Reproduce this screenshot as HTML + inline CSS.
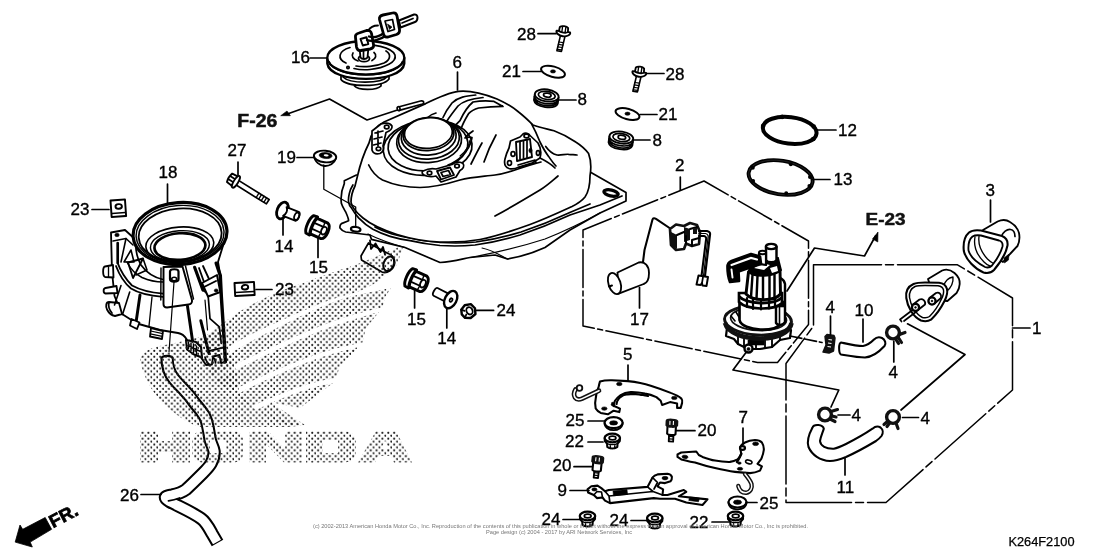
<!DOCTYPE html>
<html><head><meta charset="utf-8">
<style>
html,body{margin:0;padding:0;background:#fff;}
body{width:1120px;height:560px;overflow:hidden;font-family:"Liberation Sans",sans-serif;}
svg{display:block;transform:translateZ(0);will-change:transform;}
.l{fill:none;stroke:#000;stroke-width:1.7;stroke-linecap:round;stroke-linejoin:round;}
.t{fill:none;stroke:#000;stroke-width:1.2;stroke-linecap:round;stroke-linejoin:round;}
.h{fill:none;stroke:#111;stroke-width:1.6;stroke-linecap:round;stroke-linejoin:round;}
.w{fill:#fff;stroke:#000;stroke-width:1.7;stroke-linecap:round;stroke-linejoin:round;}
.k{fill:#000;stroke:#000;stroke-width:0.6;stroke-linejoin:round;}
.d{fill:none;stroke:#111;stroke-width:1.1;stroke-dasharray:22 4 5 4;}
.n{font-family:"Liberation Sans",sans-serif;font-size:17px;fill:#000;stroke:#000;stroke-width:0.35;}
.b{font-family:"Liberation Sans",sans-serif;font-weight:bold;font-size:14px;fill:#111;stroke:#111;stroke-width:0.5;}
</style></head><body>
<svg width="1120" height="560" viewBox="0 0 1120 560">
<rect width="1120" height="560" fill="#fff"/>
<g id="fr">
<path d="M15.2 542.1L20 525L22.700 529.300L45.200 517.500L51.600 529.300L30.200 542.100L32.300 547Z" fill="#000" stroke="#000" stroke-width="0.800" stroke-linejoin="miter"/>
<text transform="translate(53 528.300) rotate(-27.600)" style="font-family:'Liberation Sans',sans-serif;font-weight:bold;font-size:18px;fill:#000;stroke:#000;stroke-width:0.700" textLength="30" lengthAdjust="spacingAndGlyphs">FR.</text>

</g>
<g id="tank">
<!-- flange / lower -->
<path class="w" d="M356.400 175L344.300 180.700L344.300 183.600C341.500 190 340.500 197 341.400 203.600C342.500 207 344.500 210 345.700 212C347 215 348.500 218 348.600 220.700L341.400 223.600C340 225 339.800 227 340 227.900C341.500 230 343.500 231.500 345.700 232L370 235L371.400 239.300L405 247.500L440 262.500C452 262 462 259 470 257.5L495 255L507.5 259C520 257 535 252 545 247.5L570 230L600 213L626 201V192.5L591 172.5Z"/>
<!-- tube under tank -->
<path class="w" d="M368.500 243L361 256L361.500 260L382 272C387 274 393 270 394.500 264C395.500 259 392.500 255 388 253.500Z"/>
<ellipse class="w" cx="388.700" cy="263.700" rx="5" ry="7.500" transform="rotate(22 388.700 263.700)" style="stroke-width:1.95"/>
<path class="l" d="M370 240.500L371 249L375.500 243.500L380.500 252L383 247L385 254.500" style="stroke-width:1.83"/>
<!-- flange edge lines -->
<path class="l" d="M352.900 185C351 188 349.800 191 349.300 193.600C348.500 197 348.300 200 348.600 202C349 204.500 350 206.500 351.400 207.900C353.500 211.500 356 215 358.600 217.900C363 222.500 368 226.500 372.900 229.300C378 232 384 234.500 390 236.400C397 238.500 404 239.800 410 240.700C420 243 430 244.500 440 245.500C455 246.500 465 246 475 245C490 243 505 239.500 520 235C538 229 555 222 570 215L600 205L622 196"/>
<path class="l" d="M375 227C380 230 386 232 392 234C399 236 406 237.500 412 238.300C422 240.500 432 241.500 441 242.500C456 243.500 466 243 476 242C491 240 506 236.500 521 232C539 226 556 219 571 212L590 204"/>
<path class="t" d="M368 234C380 240 392 244 405 247.5M470 257.5C490 254 520 247 545 239C560 233 580 224 600 213"/>
<path class="t" d="M507.500 259C498 254 492 250 482 248"/>
<!-- holes -->
<ellipse class="w" cx="355.700" cy="229.300" rx="4.800" ry="2.300" transform="rotate(8 355.700 229.300)" style="stroke-width:2.20"/>
<ellipse class="w" cx="611" cy="193" rx="7.300" ry="3" transform="rotate(13 611 193)" style="stroke-width:3.29"/>
<!-- dome -->
<path class="w" d="M357.5 176C360 165 364 153 369 143C371 134 376 126 384 122L425.700 103.600C440 96.500 449 92.500 458.600 91.400C468 90.500 483 93.500 497 99C506 103 514 108 518.600 112C525 117 530 122 533 125C541 128 548 129 554 130.700C563 134 570 138 575.700 142C582 146 586 150 588.600 153.600C591 160 591 170 590 176C590 184 588.500 192 585 197C581 202 577 204 572 206.500C560 212 545 219 530 224.500C512 231 495 236.500 480 239.500C466 242 452 242.500 440 242C425 241.500 410 238.500 397 234.500C386 231 374 227 363 218C357 213 351.500 207 351 202C351 196 353 190 355 186L357.500 176Z"/>
<!-- dome base line -->
<path class="l" d="M368.700 165C372 172 377 177 382.500 180C394 185 407 187.500 420 187.500C434 187.500 447 184 460 180C472 177 484 176.500 495 175C502 174 509 172 515 170C524 167 533 164 541 162"/>
<!-- right side crease -->
<path class="l" d="M531.400 123.600C535 130 538 137 540 142C543 148 546 153 548.600 156.400C551 160 553 163 556 166"/>
<path class="l" d="M545.700 146.400C549 151 553 154 557 155C561 155.500 565 154 568.600 154.300C572 154.500 575 155 577 155"/>
<path class="l" d="M495 216C510 208 525 199 540 190C548 185 553 180 558 176"/>
<!-- top ridges -->
<path class="l" d="M475.700 95C466 96 458 97 452 103C448 108 445 113 443 117.500"/>
<path class="l" d="M483 97.500C473 98.500 464 100 458 106C454 111 450 116 447 121"/>
<path class="l" d="M503 106.400L494 101.400C486 100.500 479 101 473 102C467 107 463 114 460 120.700L455 125.700L461.400 128C463 123 466 118 468.600 113.600C471 111 475 109 478.600 108C487 107 495 106.500 503 106.400Z"/>
<path class="l" d="M455 125.700L450 128"/>
<path class="l" d="M473 131C470 133 467 135 465 138C468 137 470 137 472 137.500C471 144 467 151 462 156C458 160 453 163 448 165"/>
<path class="t" d="M470 140C469 146 465 152 460 156"/>
<path class="l" d="M482 143C478 150 474 158 471 164M496 135C491 144 487 153 484 162"/>
<path class="l" d="M436 113C432 114 429 116 427 118"/>
<!-- filler neck concentric -->
<g transform="rotate(-5 429 140)">
<ellipse class="l" cx="427" cy="147.500" rx="44.500" ry="27.500"/>
<ellipse class="l" cx="427.500" cy="145.500" rx="40" ry="25"/>
<ellipse class="w" cx="429" cy="141" rx="32.500" ry="21.500"/>
<ellipse class="w" cx="429" cy="139" rx="30.500" ry="20"/>
<ellipse class="w" cx="429" cy="136.500" rx="27.500" ry="18.500"/>
<ellipse class="w" cx="429" cy="134" rx="25.500" ry="16.500"/>
<ellipse class="w" cx="429" cy="133" rx="24" ry="15.300"/>
</g>
<!-- small tube top-left -->
<path class="w" d="M398.300 107L421.500 100.800C424 100.600 424.500 103.300 422.500 104L399.300 110.400Z"/>
<ellipse class="w" cx="398.600" cy="108.700" rx="1.400" ry="2" transform="rotate(-15 398.600 108.700)"/>
<!-- left latch -->
<path class="w" d="M372 131L381 124C386 122.500 390 123 392 126C392.500 129 390 131 386 132.500L383 146C384 149 383 152 380 153.500C376 154.500 373 153 372 150Z" style="stroke-width:1.71"/>
<path class="l" d="M375 133L383 131M374 139L382 137M373.500 145L381 143M378 131V146"/>
<ellipse class="w" cx="386.700" cy="127" rx="2.300" ry="1.800"/>
<ellipse class="w" cx="378.500" cy="148.800" rx="2.300" ry="1.800"/>
<!-- bottom latch -->
<path class="w" d="M423 171C427 169 432 168 436 169L452 164.500C455 162 460 161 463 163.500C465 166 463 169 460 170.500L456 177L441 182L436 176C432 177 427 176.500 424 175C422 174 421.500 172 423 171Z" style="stroke-width:1.71"/>
<path class="w" d="M437 171L450 167.500L454 175L441 179.500Z" style="stroke-width:1.83"/>
<path class="l" d="M441 172.500L448.500 170.500L450.500 174.500L443 176.500Z"/>
<ellipse class="w" cx="429.500" cy="173" rx="2.300" ry="1.800"/>
<ellipse class="w" cx="457" cy="166" rx="2.300" ry="1.800"/>
<!-- right latch -->
<path class="w" d="M510.500 141L520 137L523 134C525 132.500 529 133 530 135.500L538 143C541 148 541.500 153 540 158L532 163L519 167C516 168.500 512 169.500 509 168.500C505 167 504 163 505 159C506 155 507 152 509 148Z" style="stroke-width:1.71"/>
<path class="w" d="M516 142L530 139L532 157L517 161Z" style="stroke-width:1.83"/>
<path class="l" d="M520 142V159M523.500 141.500V158M527 140.500V157.500"/>
<ellipse class="k" cx="530.500" cy="150.500" rx="1.600" ry="2.300"/>
<ellipse class="w" cx="513" cy="154" rx="2" ry="2.300"/>
<ellipse class="w" cx="509.500" cy="163" rx="2" ry="2.300"/>
<ellipse class="w" cx="538" cy="153" rx="1.600" ry="2.300"/>
<ellipse class="w" cx="526.500" cy="136" rx="2.500" ry="1.800"/>
<path class="l" d="M518 165L535 160L536 162.500L519 167.500"/>
<path class="l" d="M540 158C546 161 551 164 555 168"/>

</g>
<g id="cap16">
<!-- lower steps -->
<path class="w" d="M354.5 80V86C358 90.500 377 90.500 381 86V80Z"/>
<path class="w" d="M341 70V79.500C347 87.500 383 87.500 389 79V70Z"/>
<path class="l" d="M343 77C350 84 381 84 387.500 76.500"/>
<!-- rim -->
<path class="w" d="M327.300 58V63.500C330 84 402 84 404.300 63.500V58Z" style="stroke-width:2.32"/>
<ellipse class="w" cx="365.800" cy="57.800" rx="38.500" ry="16.800" style="stroke-width:2.32"/>
<path class="l" d="M329 61.500C335 79 397 79 402.500 61.500"/>
<!-- concentric arcs -->
<path class="l" d="M346 63C337 59 338 51 350 47.500M357 45.500C372 43 392 47 395 55C397 62 385 68 370 69.500C364 70 358 69.500 354 68.500"/>
<path class="l" d="M356 66C364 67.500 376 66.500 384 63C391 59.500 391 54 386 51"/>
<path class="l" d="M353 53C351 56 353 59.500 358 61M372 60.500C376 58.500 377 55 374 52.500"/>
<circle class="l" cx="348" cy="67.500" r="1.200"/>
<!-- keyhole boss -->
<ellipse class="w" cx="364" cy="58.500" rx="5.500" ry="3.200" style="stroke-width:1.83"/>
<!-- key 1 blade+head -->
<path class="w" d="M359.500 48L360.500 57.500C362 59.500 366 59.500 367.500 57.500L368.500 47Z" style="stroke-width:1.83"/>
<path class="l" d="M363.500 50V58"/>
<path class="w" d="M355.500 37.500C355 35 357 33.500 359 33L366.500 30.500C369 30 371 31 371.500 33.500L373.500 44.500C374 47 372.500 48.500 370 49L361 50.500C358.500 51 357 49.500 356.500 47Z" style="stroke-width:2.81"/>
<path class="w" d="M360.500 39L366.500 37.300L368.300 44L362.800 45.500Z" style="stroke-width:1.95"/>
<!-- chain link -->
<path class="l" d="M367 40C372 42 380 40 386 35.500C388 33.500 389 31 387.500 29.500M369 36.500C373 38 379 36.500 384 33" style="stroke-width:2.32"/>
<path class="l" d="M368 31C370 27.500 374 25.500 378 25.500" style="stroke-width:1.83"/>
<!-- key 2 -->
<path class="w" d="M399 20.500L414 14.500C416 14 417.500 15.500 417.500 17.500C417.500 20 416.500 21.500 415 22L400.500 27.500Z" style="stroke-width:1.95"/>
<path class="l" d="M402 23L413 18.500"/>
<path class="w" d="M379.500 19.500C379 17 380.500 15.500 383 15L392.500 13C395 12.500 396.500 13.500 397 16L399.500 29.500C400 32 399 33.500 396.500 34.500L388 37C385.500 37.500 384 36.500 383.500 34Z" style="stroke-width:2.81"/>
<path class="w" d="M385 21L392.500 19.500L394.500 29.500L388 31.500Z" style="stroke-width:1.71"/>
<path class="k" d="M387.500 24L392 27L389.500 29.500Z"/>

</g>
<g id="part18">
<!-- body silhouette -->
<path class="w" d="M111 232.500L125 230L136 240L226 236L218 262L220.300 275.500L221.300 296L224.400 343.300L225.400 361.800L221 363L219.500 355L213 356.500L212 364.500L206 365L200 356L188.500 349L186.500 339C184 335 181 333.500 178 333L160 330L137 323.500L122 314L114.500 296L112 272Z" style="stroke-width:1.83"/>
<!-- left hooks -->
<path class="w" d="M113 265L105 266.500C102.500 267 102.500 276 105 277L113.500 277.500Z" style="stroke-width:1.83"/>
<path class="l" d="M108.500 267V276.500" style="stroke-width:1.34"/>
<path class="w" d="M116.500 286L105.500 288C103 288.500 103 293 105.500 293.500L117.500 293Z" style="stroke-width:1.83"/>
<path class="w" d="M119 303L109 302C106 302 105.500 306 107 309.500C109 313.500 112 315.500 115 316L122 314Z" style="stroke-width:1.83"/>
<path class="l" d="M109 302.500C108 306 109.500 310 112 313"/>
<!-- back plate -->
<ellipse class="k" cx="117" cy="235" rx="2.200" ry="1.700"/>
<path class="l" d="M113 241L126 238.500L133 245" style="stroke-width:1.59"/>
<path class="l" d="M117.700 243V263" style="stroke-width:2.68"/>
<path class="l" d="M126 238.500L121 262M124 262L131 250L134 262Z" style="stroke-width:1.59"/>
<!-- cone flare double arc -->
<path class="l" d="M117.700 263C120 270 126 280 132 285.500C140 290 150 292.500 163 293.600" style="stroke-width:1.83"/>
<path class="l" d="M116 266C119 274 125 283.500 131 288.500C139 293.500 150 295.800 163 296.800" style="stroke-width:1.83"/>
<!-- inner cone -->
<path class="l" d="M136 240C135 250 137 258 141 265C146 272 154 277.500 163 279.500" style="stroke-width:1.71"/>
<path class="l" d="M127 262C131 270 137 275 142 277.500C150 281 157 282 163 282" style="stroke-width:1.59"/>
<path class="l" d="M128 262.500L143 258.500L133 278Z" style="stroke-width:1.83"/>
<path class="l" d="M143 258.500L147 270L136 275" style="stroke-width:1.59"/>
<!-- skirt -->
<path class="l" d="M121 285.500L114.500 305" style="stroke-width:1.59"/>
<path class="l" d="M129.700 292L122.500 314.500" style="stroke-width:1.59"/>
<path class="l" d="M140 295L136 322.500" style="stroke-width:2.93"/>
<path class="l" d="M152 297L149 326" style="stroke-width:1.34"/>
<!-- bottom tabs -->
<path class="w" d="M131.500 319L130 325.500L137 329L139.500 322.500Z" style="stroke-width:1.83"/>
<path class="w" d="M151 328L150 336.500L162 339L163 331Z" style="stroke-width:1.83"/>
<path class="t" d="M150.700 331L162.700 333.600M150.300 333.800L162.300 336.400"/>
<!-- tongue -->
<path class="w" d="M163.500 267L182.500 266.500L192 300C192.500 303 190.500 304.500 188.500 304.500L167 307.500C164.500 307.500 163.500 306 163.500 304Z" style="stroke-width:1.95"/>
<path class="l" d="M185.500 266L193.500 299M161 268L160.800 300" style="stroke-width:1.46"/>
<!-- nozzle -->
<path class="w" d="M170 271.500C170 268.500 178.500 268.500 178.500 271.500V279C178.500 282.500 170 282.500 170 279Z" style="stroke-width:2.20"/>
<ellipse class="l" cx="174.200" cy="279" rx="2.500" ry="1.800" style="stroke-width:1.59"/>
<path class="t" d="M174 282L169 352"/>
<!-- right structure -->
<path class="l" d="M187.500 306.300L192.600 341.200L194.600 347.400" style="stroke-width:2.93"/>
<path class="l" d="M200.800 320.700L209 353.600" style="stroke-width:2.93"/>
<path class="l" d="M194.600 267.300L202.900 290" style="stroke-width:3.17"/>
<path class="l" d="M202.900 290L208 294L210 318.700L219.300 326.900L221.300 343.300" style="stroke-width:1.71"/>
<path class="l" d="M199 268L204 282M203 266L209 279" style="stroke-width:1.83"/>
<path class="w" d="M202 283L217 275L220.300 292L208 296.500Z" style="stroke-width:1.95"/>
<path class="l" d="M204 287L216 281" style="stroke-width:1.95"/>
<ellipse class="k" cx="216.200" cy="290.500" rx="1.900" ry="1.600"/>
<path class="l" d="M216.200 263.200L220.300 275.500L221.300 296L224.400 343.300L225.400 361.800" style="stroke-width:3.42"/>
<path class="l" d="M205 300L207.500 330" style="stroke-width:1.22"/>
<path class="l" d="M207 351.500L224 347.400" style="stroke-width:1.83"/>
<!-- connector -->
<path class="w" d="M186 340L196 342L201 347L202 357.500L194 354.500L187 349.500Z" style="stroke-width:2.07"/>
<path class="l" d="M188.500 342V348.500M191 343V350.500M193.500 344V352.500M196.500 346V354.500M188 345.500L200.500 351.500" style="stroke-width:1.46"/>
<path class="l" d="M205 357C206 361 207.500 363.500 210 365M213 357.500C215 359 216 361 215.500 363"/>
<!-- ring top -->
<g transform="rotate(-4 180 233)">
<ellipse class="w" cx="180" cy="233.500" rx="47" ry="31" style="stroke-width:3.17"/>
<ellipse class="l" cx="180" cy="234" rx="44" ry="28.500" style="stroke-width:1.46"/>
<ellipse class="l" cx="180" cy="235" rx="41.500" ry="26.500" style="stroke-width:1.83"/>
<ellipse class="l" cx="179" cy="244.500" rx="34" ry="17.500" style="stroke-width:1.59"/>
<ellipse class="l" cx="179" cy="246" rx="29.500" ry="15.300" style="stroke-width:1.46"/>
<ellipse class="w" cx="179" cy="246.500" rx="25.500" ry="13.300" style="stroke-width:2.68"/>
</g>

</g>
<g id="hose26">
<g fill="none" stroke-linejoin="round">
<path id="h26" d="M167 357.500C167 366 169 373 174 379C178 384 182 387.500 185 391C189 395 192 399 195 403.500C199 408 202 412 204.500 416C206.500 420 207.500 424 208 427.500C209 432 209.500 436 210 439C211 444 213.500 447 214 451C214.500 456 213 460 211 463.500C209 467 206 470 203 473C197 479 191 485 186 489.500C182 492.500 177 494 172 495C169 495.500 166 496 165.500 497C165 498.500 167 500 169.500 501.500C180 507 192 512 201 518.500C206 522 209 528 212 533.500L217.500 543" stroke="#000" stroke-width="13.30" stroke-linecap="butt"/>
<path d="M167 356C167 366 169 373 174 379C178 384 182 387.500 185 391C189 395 192 399 195 403.500C199 408 202 412 204.500 416C206.500 420 207.500 424 208 427.500C209 432 209.500 436 210 439C211 444 213.500 447 214 451C214.500 456 213 460 211 463.500C209 467 206 470 203 473C197 479 191 485 186 489.500C182 492.500 177 494 172 495C169 495.500 166 496 165.500 497C165 498.500 167 500 169.500 501.500C180 507 192 512 201 518.500C206 522 209 528 212 533.500L217 542" stroke="#fff" stroke-width="9.27" stroke-linecap="butt"/>
</g>
<path d="M161.500 358.500C162 355 172 355 172.700 358.500" fill="#fff" stroke="#000" stroke-width="2.32"/>
<path class="l" d="M168.500 500.800C172 500.300 176 499.300 179.500 498" style="stroke-width:1.83"/>

</g>
<g id="smallleft">
<g transform="translate(233.4 180.2) rotate(32)">
<path class="w" d="M4 -2.600H40.500V2.600H4Z" style="stroke-width:1.71"/>
<path class="l" d="M28.500 -2.600V2.600M31.500 -2.600V2.600M34.500 -2.600V2.600M37.500 -2.600V2.600" style="stroke-width:1.34"/>
<path class="w" d="M-4.500 -5C-5.500 -2 -5.500 2 -4.500 5L1.500 5.500V-5.500Z" style="stroke-width:1.83"/>
<path class="l" d="M-4.500 -1.800H1.500M-4.500 1.800H1.500"/>
<ellipse class="w" cx="3" cy="0" rx="2.200" ry="6.800" style="stroke-width:1.83"/>
</g>
<g transform="translate(282.5 210.5) rotate(22)">
<ellipse class="w" cx="0" cy="0" rx="5.300" ry="8.800" style="stroke-width:2.81"/>
<path class="w" d="M2.500 -4.700H15.500C18.500 -4.700 18.500 4.700 15.500 4.700H2.500C5 2 5 -2 2.500 -4.700Z" style="stroke-width:1.83"/>
<ellipse class="l" cx="15.300" cy="0" rx="2.300" ry="3.800"/>
</g>
<g transform="translate(450.7 299.6) rotate(27)">
<path class="w" d="M-17 -4.300H-2V4.300H-17C-19.500 4.300 -19.500 -4.300 -17 -4.300Z" style="stroke-width:1.83"/>
<ellipse class="w" cx="0" cy="0" rx="5.800" ry="9.300" style="stroke-width:2.44"/>
<ellipse class="l" cx="0.500" cy="0.300" rx="1.300" ry="1.900"/>
</g>
<g transform="translate(318 228) rotate(24)">
<path class="w" d="M-9 -9.500C-12 -6 -12 6 -9 9.500L-5 10L-4 8.500L7 8.500C12 7 12 -7 7 -8.500L-4 -8.500L-5 -10Z" style="stroke-width:2.93"/>
<path class="l" d="M-5 -10C-7.500 -6 -7.500 6 -5 10M-4 -8.500C-6 -5 -6 5 -4 8.500" style="stroke-width:1.83"/>
<path class="l" d="M-5.500 -3.200H4.500M-5.500 3.200H4.500" style="stroke-width:1.83"/>
<ellipse class="w" cx="6.500" cy="0" rx="2.600" ry="4" style="stroke-width:1.83"/>
<path class="l" d="M4.500 -3.200L4 -8M4.500 3.200L4 8" style="stroke-width:1.46"/>
</g>
<g transform="translate(417 281) rotate(24)">
<path class="w" d="M-9 -9.500C-12 -6 -12 6 -9 9.500L-5 10L-4 8.500L7 8.500C12 7 12 -7 7 -8.500L-4 -8.500L-5 -10Z" style="stroke-width:2.93"/>
<path class="l" d="M-5 -10C-7.500 -6 -7.500 6 -5 10M-4 -8.500C-6 -5 -6 5 -4 8.500" style="stroke-width:1.83"/>
<path class="l" d="M-5.500 -3.200H4.500M-5.500 3.200H4.500" style="stroke-width:1.83"/>
<ellipse class="w" cx="6.500" cy="0" rx="2.600" ry="4" style="stroke-width:1.83"/>
<path class="l" d="M4.500 -3.200L4 -8M4.500 3.200L4 8" style="stroke-width:1.46"/>
</g>
<g transform="translate(325 157) rotate(5)">
<path class="w" d="M-11 0C-10 6 -4 9 0 9C5 9 10 6 11 0Z" style="stroke-width:1.83"/>
<ellipse class="w" cx="0" cy="-0.500" rx="11.200" ry="5.800" style="stroke-width:1.95"/>
<ellipse class="k" cx="0.500" cy="-1.500" rx="6.500" ry="3"/>
<ellipse cx="1" cy="-1.800" rx="2.500" ry="1.100" fill="#fff"/>
</g>
<g transform="translate(110.5 200.5) rotate(-4)">
<path class="w" d="M0 0H14.5V16.5H0Z" style="stroke-width:1.95"/>
<path class="l" d="M0.500 13.0H14.0" style="stroke-width:1.46"/>
<ellipse class="w" cx="7.75" cy="6.5" rx="3.200" ry="2.300" style="stroke-width:1.95"/>
</g>
<g transform="translate(234.5 283) rotate(-3)">
<path class="w" d="M0 0H19.5V13H0Z" style="stroke-width:1.95"/>
<path class="l" d="M0.500 9.5H19.0" style="stroke-width:1.46"/>
<ellipse class="w" cx="10.25" cy="4.75" rx="3.200" ry="2.300" style="stroke-width:1.95"/>
</g>
<g transform="translate(468.6 311.2) rotate(-25)">
<path class="w" d="M-6 -4.500L-1 -7L5 -5.500L7 0L5 5.500L-1 7L-6 4.500L-7.500 0Z" style="stroke-width:2.44"/>
<ellipse class="w" cx="1" cy="0" rx="3" ry="3.800" style="stroke-width:1.83"/>
<path class="l" d="M-6 -4.500L-3.500 -2M-6 4.500L-3.500 2"/>
</g>

</g>
<g id="topmid">
<!-- bolts 28 -->
<g transform="translate(563.5 31) rotate(8)">
<path class="w" d="M-2.300 4L-3.800 20.500H0.800L2.300 4Z" style="stroke-width:1.59"/>
<path class="t" d="M-3 11.500H1.500M-3.200 14H1.300M-3.400 16.500H1.100M-3.600 19H0.900"/>
<path class="w" d="M-6.800 0.500C-7.800 2.800 -4 5.300 0 5.300C4 5.300 7.800 2.800 6.800 0.500Z" style="stroke-width:1.83"/>
<path class="w" d="M-4.200 -3.500L-4.500 0.500C-3 2 3 2 4.500 0.500L4.200 -3.500C2.500 -5.300 -2.500 -5.300 -4.200 -3.500Z" style="stroke-width:1.83"/>
<path class="l" d="M-1.500 -4.500V1.400M1.800 -4.500V1.400" style="stroke-width:1.34"/>
</g>
<g transform="translate(639.5 71.5) rotate(8)">
<path class="w" d="M-2.300 4L-3.800 20.500H0.800L2.300 4Z" style="stroke-width:1.59"/>
<path class="t" d="M-3 11.500H1.500M-3.200 14H1.300M-3.400 16.500H1.100M-3.600 19H0.900"/>
<path class="w" d="M-6.800 0.500C-7.800 2.800 -4 5.300 0 5.300C4 5.300 7.800 2.800 6.800 0.500Z" style="stroke-width:1.83"/>
<path class="w" d="M-4.200 -3.500L-4.500 0.500C-3 2 3 2 4.500 0.500L4.200 -3.500C2.500 -5.300 -2.500 -5.300 -4.200 -3.500Z" style="stroke-width:1.83"/>
<path class="l" d="M-1.500 -4.500V1.400M1.800 -4.500V1.400" style="stroke-width:1.34"/>
</g>
<ellipse class="w" cx="553" cy="71.7" rx="12.300" ry="5.200" transform="rotate(15 553 71.7)" style="stroke-width:1.95"/>
<ellipse class="k" cx="553" cy="71.4" rx="2.600" ry="1.600"/>
<ellipse class="w" cx="627.5" cy="114" rx="12.300" ry="5.200" transform="rotate(15 627.5 114)" style="stroke-width:1.95"/>
<ellipse class="k" cx="627.5" cy="113.7" rx="2.600" ry="1.600"/>
<g transform="translate(546.4 97.9) rotate(8)">
<path class="w" d="M-12 -2V4C-10 11 10 11 12 4V-2Z" style="stroke-width:1.83"/>
<path class="l" d="M-12 0.500C-9 7.500 9 7.500 12 0.500M-11.500 2.800C-9 9.500 9 9.500 11.500 2.800" style="stroke-width:1.71"/>
<ellipse class="w" cx="0" cy="-2.500" rx="12" ry="6" style="stroke-width:1.83"/>
<ellipse class="l" cx="0" cy="-2.500" rx="8.500" ry="4"/>
<ellipse class="w" cx="0.500" cy="-2.800" rx="3.800" ry="2" style="stroke-width:1.71"/>
</g>
<g transform="translate(621 140) rotate(8)">
<path class="w" d="M-12 -2V4C-10 11 10 11 12 4V-2Z" style="stroke-width:1.83"/>
<path class="l" d="M-12 0.500C-9 7.500 9 7.500 12 0.500M-11.500 2.800C-9 9.500 9 9.500 11.500 2.800" style="stroke-width:1.71"/>
<ellipse class="w" cx="0" cy="-2.500" rx="12" ry="6" style="stroke-width:1.83"/>
<ellipse class="l" cx="0" cy="-2.500" rx="8.500" ry="4"/>
<ellipse class="w" cx="0.500" cy="-2.800" rx="3.800" ry="2" style="stroke-width:1.71"/>
</g>

</g>
<g id="rings">
<ellipse cx="789.700" cy="130.400" rx="27" ry="13.300" transform="rotate(7 789.700 130.400)" fill="none" stroke="#000" stroke-width="4"/>
<g fill="#000"><circle cx="763.1" cy="126.0" r="2.300"/><circle cx="782.1" cy="116.9" r="2.300"/><circle cx="813.7" cy="126.6" r="2.300"/><circle cx="813.3" cy="139.0" r="2.300"/></g>
<ellipse cx="780.600" cy="177.500" rx="32.300" ry="16.800" transform="rotate(9 780.600 177.500)" fill="none" stroke="#000" stroke-width="3.900"/>
<ellipse cx="780.600" cy="177.500" rx="32.300" ry="16.800" transform="rotate(9 780.600 177.500)" fill="none" stroke="#fff" stroke-width="0.500" opacity="0.250"/>
<g fill="#000"><circle cx="752.8" cy="167.8" r="2"/><circle cx="753.1" cy="180.9" r="2"/><circle cx="786.2" cy="193.3" r="2"/><circle cx="809.4" cy="186.1" r="2"/><circle cx="810.0" cy="176.9" r="2"/><circle cx="790.8" cy="164.2" r="2"/></g>

</g>
<g id="pump">
<!-- flange base under -->
<path class="w" d="M727 328L726 336L734 339L738 344L748 349L760 349L772 347L780 340L790 338L791 330Z" style="stroke-width:2.20"/>
<path class="l" d="M738 336V344M744 338V347M756 340V349M765 340V348M772 339V347M780 335V340" style="stroke-width:1.83"/>
<path class="k" d="M748 340H764V345H748Z"/>
<!-- outlet nozzle -->
<circle class="w" cx="748.500" cy="348.500" r="4" style="stroke-width:2.44"/>
<circle class="k" cx="748.500" cy="349" r="1.600"/>
<!-- flange ring -->
<ellipse cx="758" cy="320.500" rx="33.500" ry="14.500" fill="#fff" stroke="#111" stroke-width="2.93" transform="rotate(3 758 320.500)"/>
<path d="M725 323C728 334 745 338.500 760 338.500C778 338.500 790 332 791.500 323" fill="none" stroke="#111" stroke-width="4.64"/>
<ellipse cx="758.500" cy="319" rx="28" ry="11.500" fill="none" stroke="#111" stroke-width="1.71" transform="rotate(3 758 320)"/>
<path class="l" d="M731 316L735 321M736 312L739 317M783 318L786 313M778 324L782 320" style="stroke-width:1.59"/>
<!-- lower white cylinder -->
<path class="w" d="M739.500 300V320C742 331.500 778 333.500 782 322V300Z" style="stroke-width:2.68"/>
<!-- right strap -->
<path class="w" d="M776 279V323C778 326 783 325.500 785 322V284C784 279 779 276 776 279Z" style="stroke-width:2.44"/>
<path class="l" d="M779.500 281V324" style="stroke-width:1.59"/>
<path class="k" d="M777 301H784.500V307H777Z"/>
<!-- dark band -->
<path d="M739 293V302C747 310 774 311 782 303V293Z" fill="#fff" stroke="#000" stroke-width="2.68"/>
<path class="l" d="M747 298V307M753 299V309M761 299V309.500M769 298.500V308.500M775 297V306" style="stroke-width:2.20"/>
<path d="M739 296.500C747 304.500 774 305.500 782 297.500" fill="none" stroke="#000" stroke-width="2.93"/>
<!-- upper motor body -->
<path class="w" d="M748.500 272L746 294C752 301 774 302 780.500 294L780 270Z" style="stroke-width:2.93"/>
<path class="l" d="M752.500 275L751 297M757.500 276L756.500 299M763 276.500V300M769.500 276V299.500M774.500 275V298" style="stroke-width:2.44"/>
<!-- motor top -->
<path d="M748.500 272C750 264 758 259 766 258L778 258L781 270C774 277 754 278 748.500 272Z" fill="#000" stroke="#000" stroke-width="1.83"/>
<path d="M754 268L762 263L770 265L764 270Z" fill="#fff"/>
<path d="M770 268L777 266L778 271L772 273Z" fill="#fff"/>
<!-- top nozzle -->
<path class="w" d="M766 247V260C767.500 263 775 263 776.500 260V247Z" style="stroke-width:2.44"/>
<ellipse class="w" cx="771.200" cy="246.500" rx="5.300" ry="2.600" style="stroke-width:2.44"/>
<path class="w" d="M759 253V264L766 265V252Z" style="stroke-width:2.20"/>
<ellipse class="w" cx="762.500" cy="252.500" rx="3.500" ry="1.800" style="stroke-width:1.95"/>
<!-- bracket -->
<path d="M727.500 267C727.500 264 729 262 731.500 261L751 254L760 256.500L761 264L753 266.500L738.500 271.500L739 281L730 282C728 277 727.500 272 727.500 267Z" fill="#000" stroke="#000" stroke-width="2.68" stroke-linejoin="round"/>
<path d="M731.500 265L751 258L757 259.500" fill="none" stroke="#fff" stroke-width="2.20" stroke-linecap="round"/>
<path d="M731.500 269.500L732.500 277.500" fill="none" stroke="#fff" stroke-width="1.95" stroke-linecap="round"/>
<!-- float 17 -->
<path class="w" d="M617.500 272.500L638.700 262.500C645 261 649 266 649 273C649 279 647 283 643.700 284L618.700 293.700Z" style="stroke-width:1.83"/>
<ellipse class="w" cx="614.500" cy="283.500" rx="6" ry="11" transform="rotate(-18 614.500 283.500)" style="stroke-width:1.83"/>
<path class="l" d="M609 286.500L612 285.500" style="stroke-width:1.95"/>
<!-- float arm -->
<path class="l" d="M643 262L644.500 250L652.500 219.500C653 218 654.500 218 656 218.800L672.500 230" style="stroke-width:2.07"/>
<!-- sender -->
<path d="M670 229L676 224.500L684 226L690 223L697 225L700 232L699 244L692 246L686 243.500L684 249L676 250L671 245Z" fill="#fff" stroke="#111" stroke-width="2.68" stroke-linejoin="round"/>
<path d="M671 232L677 235V249L671 245Z" fill="#111"/>
<path d="M684 227L690 229V240L684 242Z" fill="#111"/>
<path class="l" d="M677 235L684 232M690 229L697 227M692 246V240L699 238M686 243.500V236" style="stroke-width:1.95"/>
<path d="M693 228H697V234H693Z" fill="#111"/>
<!-- wires -->
<path class="l" d="M699 231L707 231C709.500 231.500 710.500 233 710 235L705 276" style="stroke-width:2.07"/>
<path class="l" d="M699 236L704 236C706 236.500 706.500 238 706 240L701.500 276" style="stroke-width:2.07"/>
<path class="l" d="M699 233.500L705.500 233.500C708 234 708.500 236 708 238L703.500 276" style="stroke-width:1.22"/>
<path class="w" d="M698.500 275.500L708 277L706.500 286L702.500 285.500L702 283L700.500 285L696.500 284.500Z" style="stroke-width:1.95"/>
<path class="l" d="M703 277L702 283"/>

</g>
<g id="right">
<!-- part 3 tube -->
<path class="w" d="M983 230L997.600 221.500C1002 219.500 1007 220 1010 222C1015 225 1018 229 1019 233C1020 238 1019.500 242 1017.500 246L1010 254L1003 262L985 250Z" style="stroke-width:1.83"/>
<path class="l" d="M1001 237C1003 232 1007 229 1010.500 229.500C1013.500 230 1015 233 1015 236.500"/>
<path class="k" d="M1004 258L1009 254L1008.500 260L1004.500 263Z"/>
<!-- part 3 face -->
<path class="w" d="M963.800 251C963 243 965 236 969 232.500C972 230 977 230 981 230.500L1002 236C1006 237.500 1008 241 1007.500 245.500C1006 253 1000 263 994 270C991 273 987 273.500 983.500 272.500C975 269 966 260 963.800 251Z" style="stroke-width:2.07"/>
<path class="l" d="M968.500 250.500C968 244 969.500 239 972.500 236.500C975 235 978 235 981 235.500L999 240.500C1002 241.500 1003 243.500 1002.500 246.500C1001 252 996.500 260 992 265.500C990 267.500 987.500 268 985 267C978.500 263.500 970.500 257.500 968.500 250.500Z" style="stroke-width:1.83"/>
<path class="l" d="M975 237C973.500 245 976 254 984 262C986 264 988 265.500 990 266M979 236.500C978 244 981 252 987.500 259C989.500 261 991.500 262.500 993.500 263.500" style="stroke-width:1.34"/>
<!-- filter tube -->
<path class="w" d="M928 279L942.200 270.500C946 269 951 270 954.500 273C958 276 960 280 959.700 284C959.500 288 958 291 956.600 293L947.400 301L935 300Z" style="stroke-width:1.83"/>
<path class="l" d="M943 287C945 281 949 277.500 953 277C953.500 282 951 288 946 292" style="stroke-width:1.34"/>
<!-- filter face -->
<path class="w" d="M906.300 298C905.500 292 908 286.500 913.500 284C917 282.500 921 282.500 925 282.500L939 282.700C943 283 946 285.500 947 289C948 293 946.500 297 944.500 301C941 308 936 315 931 319.700C928 321.500 924 321.500 921 320.500C913 317 907.500 307 906.300 298Z" style="stroke-width:2.07"/>
<path class="l" d="M909.500 297.500C909 293 911 288.500 915 286.500C918 285.500 921.500 285.500 925 285.500L938 285.700C941 286 943 287.500 943.500 290C944 293 943 296 941.500 299C938.500 305.500 934 312 929.500 316.500C927.500 318 925 318 922.500 317.500C916 314.500 910.500 305 909.500 297.500Z" style="stroke-width:1.46"/>
<!-- ports -->
<path class="w" d="M913 304.500L919.500 299.500C922.500 298 926 301 925 304.500L918 310Z" style="stroke-width:1.83"/>
<path class="w" d="M929.500 298L936 293C939 291.500 942 294.500 941 298L934.500 303.500Z" style="stroke-width:1.83"/>
<circle class="w" cx="915.500" cy="307.400" r="3.600" style="stroke-width:2.32"/>
<circle class="w" cx="932" cy="301" r="3.600" style="stroke-width:2.32"/>
<circle class="k" cx="915.500" cy="307.400" r="0.900"/>
<circle class="k" cx="932" cy="301" r="0.900"/>
<!-- lines from port -->
<path class="l" d="M912.500 310L900 319.500L901.500 321.500M916.500 311.500L904 321"/>
<!-- clip 4 small -->
<path d="M825 336.500L827 334.500L834 335.500L835 338L833.500 351L829 353L823 352L826 345Z" fill="#111" stroke="#111" stroke-width="1.46" stroke-linejoin="round"/>
<path d="M828.500 339.500L832 340M828 343L831.500 343.500M827.500 346.500L831 347" stroke="#fff" stroke-width="1.10" fill="none"/>
<!-- hose 10 -->
<path class="w" d="M841 342.500C838.500 343 838.500 353.500 841 354.500C850 356 858 357.500 865 357.500C872 357 879 352 884.500 346C886.500 343.500 885 339.500 882 338C878.500 336.500 876 337.500 874 339.500C870.500 343 867 345.500 863 346C856 346 848 344 841 342.500Z" style="stroke-width:2.07"/>
<circle cx="893" cy="332.5" r="6.400" fill="#fff" stroke="#111" stroke-width="3.42"/>
<path d="M898 337L901.5 342.5" stroke="#111" stroke-width="3.17" stroke-linecap="round" fill="none"/>
<path d="M899.5 334.5L905 332.5" stroke="#111" stroke-width="3.17" stroke-linecap="round" fill="none"/>
<path d="M896 339.5L898.5 343.5" stroke="#111" stroke-width="3.17" stroke-linecap="round" fill="none"/>
<circle cx="825" cy="414.5" r="6.400" fill="#fff" stroke="#111" stroke-width="3.42"/>
<path d="M831 411.5L837.5 409.5" stroke="#111" stroke-width="3.17" stroke-linecap="round" fill="none"/>
<path d="M830 419L835 421.5" stroke="#111" stroke-width="3.17" stroke-linecap="round" fill="none"/>
<path d="M832 416L836 417" stroke="#111" stroke-width="3.17" stroke-linecap="round" fill="none"/>
<circle cx="893" cy="417" r="6.400" fill="#fff" stroke="#111" stroke-width="3.42"/>
<path d="M888 421L884 424.5" stroke="#111" stroke-width="3.17" stroke-linecap="round" fill="none"/>
<path d="M896 423L898 428.5" stroke="#111" stroke-width="3.17" stroke-linecap="round" fill="none"/>
<path d="M889.5 423L887 426.5" stroke="#111" stroke-width="3.17" stroke-linecap="round" fill="none"/>
<path class="w" d="M812.500 427.500C814 423.500 823 424.500 823.800 428.700C822.500 433 820.500 437 820 441C820.500 446 826 449 833.800 448.700C838 448 842 446 846 444C855 439.500 864 434.500 872.500 428.700C875 426.500 878 426 880.500 427.500C883 429.500 883.500 433 881.500 436C880 438 878 439.500 876 441C866 447 856 452.500 846 457C840 459.500 835 461 830 461C820 460.500 812 455 808.500 447C806.500 441 809 434 812.500 427.500Z" style="stroke-width:2.07"/>

</g>
<g id="brackets">
<path class="w" d="M600 381.400C604 380.300 608 380.200 612 380.300L627.900 381.100C636 382 644 383.500 650.700 385.700C658 388 665 390.500 670.700 392.900C675 394.500 679 396.500 681.400 398.600C682.500 400 682.500 401.500 682.100 402.900L680.700 407.900L677.100 407.900L677.100 403.600L670 402.100L662.100 405L660.700 400.700L656.400 397.100C652 395 648 394 645 393.600C640 392.500 635 392 630.700 392.100C627 392.300 623 393.500 620.700 395C618 397 616 399 615 400.700C614 402.500 613.500 404 613.600 405.700L620 408.600L619.300 412.100L613.600 410.700L607.900 414.300L600.700 412.900C598 411.500 596.500 410 595.700 408.600C595 405 595 401 595.700 398.600C596 394 597 390 598.600 387.100C599 385 599.500 383 600 381.400Z" style="stroke-width:2.07"/>
<path class="l" d="M616.500 404C617 400 620 396.500 624 395C630 393.500 640 394 648 396" style="stroke-width:2.20" stroke-dasharray="3 1"/>
<ellipse class="k" cx="619.300" cy="384" rx="2.800" ry="1.700"/>
<ellipse class="k" cx="604.300" cy="408.600" rx="2.800" ry="1.700"/>
<ellipse class="k" cx="674.300" cy="397.900" rx="2.800" ry="1.700"/>
<path class="k" d="M612 402L615 404L614 407L611 405Z"/>
<path d="M599 390.700L582.100 398.600C579 400 576.500 399.500 575 397.500C573.500 395 574 392 575.500 389.500" fill="none" stroke="#111" stroke-width="4.64" stroke-linecap="round"/>
<path d="M599 390.700L582.100 398.600C579 400 576.500 399.500 575 397.500C573.500 395 574 392 575.500 389.500" fill="none" stroke="#fff" stroke-width="1.59" stroke-linecap="round"/>
<circle cx="579.500" cy="388" r="2.800" fill="#fff" stroke="#111" stroke-width="1.83"/>
<path class="w" d="M677.500 454.400L681.300 452.500L696.300 451.500L698.800 455L702.500 456.900C707 458.500 711 459.800 715 460.600C720 461.500 725 462 730 461.900C733 461.500 735.500 460.500 737.500 459.400C739.500 457.500 740.800 455.500 741.300 453.800L740 447.500C741 445 743 443.500 745 442.500C748 441 752 440.200 755 440C758 440 760.500 441 761.900 442.500C763.500 445 764 447.500 763.800 450C763.500 453 762.500 456 761.300 458.800L757.500 463.800L761.900 466.300L760 470.600C757 472 753.500 473 750 473.100C745 473 740 472.500 735 471.900C728 471 721 469.500 715 468.100C708 466.500 701 464.500 695 462.500C690 461.500 685 460.500 681.300 459.400L677.500 456.900Z" style="stroke-width:2.07"/>
<path class="l" d="M741.300 453.800C740 457 738.500 459.500 737 462" style="stroke-width:2.44"/>
<ellipse class="k" cx="685" cy="456.900" rx="3" ry="1.700" transform="rotate(8 685 456.900)"/>
<ellipse class="k" cx="755.600" cy="443.800" rx="3" ry="1.800"/>
<ellipse class="k" cx="740" cy="468.800" rx="2.800" ry="1.500"/>
<ellipse class="k" cx="739.400" cy="463.100" rx="1.800" ry="1.200"/>
<ellipse class="w" cx="748.800" cy="461.900" rx="3.300" ry="1.800" transform="rotate(15 748.800 461.900)" style="stroke-width:1.59"/>
<ellipse class="w" cx="742.500" cy="448" rx="2.500" ry="1.800" style="stroke-width:2.20"/>
<path d="M745 474C747.500 477 750 480 751.500 484C752.500 488 750.500 492 746.300 492.800C742 493 739.500 491 738.300 486" fill="none" stroke="#111" stroke-width="4.39" stroke-linecap="round"/>
<path d="M745 474C747.500 477 750 480 751.500 484C752.500 488 750.500 492 746.300 492.800C742 493 739.500 491 738.300 486" fill="none" stroke="#fff" stroke-width="1.46" stroke-linecap="round"/>
<path class="w" d="M587.500 489.400L591.300 486.300L597.500 485.600L601.300 488.100L605 491.300L608.800 490L647.500 486.900L652.500 477.500C654 475.500 655.500 474.800 657.500 474.400L667.500 473.800C670 474.200 671.500 475.500 671.900 476.900C672 479 671.500 480.500 670.600 481.300L665 483.100L660 482.500L657.500 486.300L663.100 489.400L662.500 495L667.500 495L683.800 490L686.300 491.900L678.800 496.300L707.500 499.400L702.500 505L686.300 502.500L675 498.800L660 498.800L653.800 498.100L610 503.100L605 500.600L602.500 497.500L596.900 498.100L593.800 495L588.100 492.500Z" style="stroke-width:2.07"/>
<path class="l" d="M605 491.300L609 496L653 491.500L662.500 495M609 496L610 503M647.500 486.900L653 491.500M652.500 477.500L657.500 482.500L654 489" style="stroke-width:1.71"/>
<path class="l" d="M593.800 495L597 491.500L601.500 492L602.500 497.500" style="stroke-width:1.59"/>
<path class="k" d="M613 491L627 489.600L627.500 494.400L613.500 495.800Z"/>
<path class="k" d="M689.500 497L699.500 498.200L698.500 501.800L688.800 500.500Z"/>
<ellipse class="k" cx="594.400" cy="489.400" rx="2.600" ry="1.600"/>
<ellipse class="k" cx="665" cy="478.100" rx="3" ry="1.800"/>
<path class="w" d="M604.6 422.7V424.2C606.6 432.0 620.6 432.0 622.6 424.2V422.7Z" style="stroke-width:1.83"/>
<ellipse class="w" cx="613.6" cy="422.7" rx="9" ry="5.500" style="stroke-width:2.20"/>
<ellipse class="k" cx="613.6" cy="422.9" rx="4" ry="2.200"/>
<path class="w" d="M728.5 502V503.5C730.5 511.3 744.5 511.3 746.5 503.5V502Z" style="stroke-width:1.83"/>
<ellipse class="w" cx="737.5" cy="502" rx="9" ry="5.500" style="stroke-width:2.20"/>
<ellipse class="k" cx="737.5" cy="502.2" rx="4" ry="2.200"/>
<g transform="translate(612.3 438.5)">
<path class="w" d="M-7.500 0V2.500L-5.300 5L-5 8.500C-3 10.500 3 10.500 5 8.500L5.300 5L7.500 2.500V0Z" style="stroke-width:2.07"/>
<path class="l" d="M-5.300 5C-3 6.500 3 6.500 5.300 5M-2 6V10M2.500 6V10" style="stroke-width:1.46"/>
<ellipse class="w" cx="0" cy="-0.500" rx="7.700" ry="4.400" style="stroke-width:2.32"/>
<ellipse class="w" cx="0.200" cy="-0.500" rx="3.400" ry="1.900" style="stroke-width:1.71"/>
</g>
<g transform="translate(587.5 516.5)">
<path class="w" d="M-7.500 0V2.500L-5.300 5L-5 8.500C-3 10.500 3 10.500 5 8.500L5.300 5L7.500 2.500V0Z" style="stroke-width:2.07"/>
<path class="l" d="M-5.300 5C-3 6.500 3 6.500 5.300 5M-2 6V10M2.500 6V10" style="stroke-width:1.46"/>
<ellipse class="w" cx="0" cy="-0.500" rx="7.700" ry="4.400" style="stroke-width:2.32"/>
<ellipse class="w" cx="0.200" cy="-0.500" rx="3.400" ry="1.900" style="stroke-width:1.71"/>
</g>
<g transform="translate(654.8 518.5)">
<path class="w" d="M-7.500 0V2.500L-5.300 5L-5 8.500C-3 10.500 3 10.500 5 8.500L5.300 5L7.500 2.500V0Z" style="stroke-width:2.07"/>
<path class="l" d="M-5.300 5C-3 6.500 3 6.500 5.300 5M-2 6V10M2.500 6V10" style="stroke-width:1.46"/>
<ellipse class="w" cx="0" cy="-0.500" rx="7.700" ry="4.400" style="stroke-width:2.32"/>
<ellipse class="w" cx="0.200" cy="-0.500" rx="3.400" ry="1.900" style="stroke-width:1.71"/>
</g>
<g transform="translate(735.5 516.5)">
<path class="w" d="M-7.500 0V2.500L-5.300 5L-5 8.500C-3 10.500 3 10.500 5 8.500L5.300 5L7.500 2.500V0Z" style="stroke-width:2.07"/>
<path class="l" d="M-5.300 5C-3 6.500 3 6.500 5.300 5M-2 6V10M2.500 6V10" style="stroke-width:1.46"/>
<ellipse class="w" cx="0" cy="-0.500" rx="7.700" ry="4.400" style="stroke-width:2.32"/>
<ellipse class="w" cx="0.200" cy="-0.500" rx="3.400" ry="1.900" style="stroke-width:1.71"/>
</g>
<g transform="translate(672 421) rotate(3)">
<path class="w" d="M-2.200 13V20.500H2.200V13Z" style="stroke-width:1.83"/>
<path class="t" d="M-2.200 15.500H2.200M-2.200 18H2.200"/>
<path class="w" d="M-4.200 4.500V13C-3 14.500 3 14.500 4.200 13V4.500Z" style="stroke-width:2.07"/>
<path d="M-5.500 0C-5.500 -2 5.500 -2 5.500 0V4.500C4 6.500 -4 6.500 -5.500 4.500Z" fill="#111" stroke="#111" stroke-width="1.71"/>
<path d="M-2 0V4M1.500 0V4" stroke="#fff" stroke-width="1.10"/>
</g>
<g transform="translate(598 457.5) rotate(6)">
<path class="w" d="M-2.200 13V20.500H2.200V13Z" style="stroke-width:1.83"/>
<path class="t" d="M-2.200 15.500H2.200M-2.200 18H2.200"/>
<path class="w" d="M-4.200 4.500V13C-3 14.500 3 14.500 4.200 13V4.500Z" style="stroke-width:2.07"/>
<path d="M-5.500 0C-5.500 -2 5.500 -2 5.500 0V4.500C4 6.500 -4 6.500 -5.500 4.500Z" fill="#111" stroke="#111" stroke-width="1.71"/>
<path d="M-2 0V4M1.500 0V4" stroke="#fff" stroke-width="1.10"/>
</g>

</g>
<g id="boxes">
<!-- box 2 -->
<path class="l" style="stroke-width:1.500" d="M704 181L583 230V326L757.5 362.5H777.5L808.5 324.5V241Z" stroke-dasharray="38 3.5 5 3.5"/>
<!-- box 1 -->
<path class="l" style="stroke-width:1.500" d="M813.5 264.8H957.5L1012.5 298V390L886 502.5H786V363.5L813.5 326Z" stroke-dasharray="68 4 8 4"/>
<!-- F-26 arrow -->
<path class="l" d="M288 113.700L329.500 99L367 120L397.500 110"/>
<path class="k" d="M280.700 115.700L287 111L290.400 115.700Z"/>
<!-- E-23 arrow -->
<path class="l" d="M787 291L814.5 248L864.5 256L875.5 236"/>
<path class="k" d="M878 232L877.8 242L872.5 239Z"/>
<!-- line from 19 -->
<path class="l" d="M323.800 165V189.300L355.700 207V226.400" style="stroke-width:1.300"/>
<!-- pump bottom to clamp -->
<path class="l" d="M746 352.5L733 370L838.8 390L831 407"/>
<path class="l" d="M790 336L822 342.5" stroke-dasharray="12 3"/>
<!-- filter to clamp lines -->
<path class="l" d="M907.5 323.8L965 354.5L901 410"/>

</g>
<g id="watermark">
<defs>
<pattern id="dots" width="5.85" height="5.85" patternUnits="userSpaceOnUse">
<circle cx="5.15" cy="2.8" r="1.05" fill="#1a1a1a"/>
<circle cx="2.2" cy="5.7" r="1.05" fill="#1a1a1a"/>
<circle cx="2.2" cy="-0.15" r="1.05" fill="#1a1a1a"/>
</pattern>
</defs>
<g fill="url(#dots)" stroke="none">
<!-- feathers -->
<path d="M226 321C250 303 280 290 305 282.500C325 275 340 270 355 265C368 260.500 386 252 403.750 245L400.500 254L397.500 264C394 268 390 272 385 276C380 280 375 283.500 370 286C361 291 352 294 342.500 296C320 303 300 312 280 321C262 329 245 337 230 346C222 351 214 355 208 359L200 340Z"/>
<path d="M234 351C250 342 266 333 283 325C303 315 323 305 345 298C360 294 375 291 391 288L385 297L382.500 307.500C365 311 347 316 330 322.500C312 329 296 336 280 343.500C262 352 246 359 232 366C224 370 218 373 212 376L206 362Z"/>
<path d="M236 370C250 363 266 355 283 347C299 340 316 332 333 326C348 321 362 317 379 312L366 328L362.500 342.500C348 345 333 349 319 353.500C303 359 288 365 273 371.500C258 378 245 384 232 391L214 380Z"/>
<path d="M238 394C250 387 264 381 277 375C292 368 307 362 322 357C334 353 346 350 359 347L340 366L336 378C322 380 308 384 295 388.500C280 394 266 400 252 406L240 400Z"/>
<path d="M256 410C268 404 282 398 296 393C308 389 320 385 333 383L300 408L270 402L305 425L290 426C278 421 266 416 256 410Z"/>
<!-- left body -->
<path d="M140 360C142 352 150 348 160 346C180 342 200 338 222 330L236 370L240 396L256 410C270 417 285 422 305 425L290 427L200 427C186 423 172 412 162.500 402.500C152 392 143 376 140 360Z"/>
<!-- HONDA -->
<path d="M140 431H158V441H172V431H190V462.500H172V452H158V462.500H140Z"/>
<path d="M203 431H233C240 431 243 435 243 440V453C243 459 240 462.500 233 462.500H203C196 462.500 192.500 459 192.500 453V440C192.500 435 196 431 203 431ZM210 440V453H226V440Z" fill-rule="evenodd"/>
<path d="M249 431H268L285 449V431H302V462.500H284L266 444V462.500H249Z"/>
<path d="M306 431H343C352 431 356 436 356 442V451C356 458 352 462.500 343 462.500H306ZM323 440V453H338V440Z" fill-rule="evenodd"/>
<path d="M376 431H396L412 462.500H394L391 456H378L375 462.500H358ZM381 449H389L385 440Z" fill-rule="evenodd"/>
</g>

</g>
<g id="labels">
<g class="n">
<text x="291" y="63">16</text>
<text x="452.5" y="67.5">6</text>
<text x="517" y="39.5">28</text>
<text x="502" y="77">21</text>
<text x="577.5" y="105">8</text>
<text x="665.5" y="79.5">28</text>
<text x="658.5" y="120">21</text>
<text x="652.5" y="146">8</text>
<text x="838" y="135.5">12</text>
<text x="833.5" y="185">13</text>
<text x="675" y="171">2</text>
<text x="985.5" y="196">3</text>
<text x="1032" y="333.5">1</text>
<text x="825.5" y="312.5">4</text>
<text x="854.5" y="315.5">10</text>
<text x="888.5" y="377.5">4</text>
<text x="851.5" y="420.5">4</text>
<text x="920.5" y="423.5">4</text>
<text x="836.5" y="492.5">11</text>
<text x="630" y="325">17</text>
<text x="623" y="359.5">5</text>
<text x="738.5" y="422.5">7</text>
<text x="565.5" y="426">25</text>
<text x="565" y="447">22</text>
<text x="697.5" y="435.5">20</text>
<text x="552.5" y="471">20</text>
<text x="557.5" y="495.5">9</text>
<text x="541.5" y="524.5">24</text>
<text x="609.5" y="525.5">24</text>
<text x="689.5" y="527.5">22</text>
<text x="759.5" y="508.5">25</text>
<text x="158.5" y="178">18</text>
<text x="70.5" y="214.5">23</text>
<text x="227.500" y="155.500">27</text>
<text x="274.5" y="252">14</text>
<text x="309" y="272.5">15</text>
<text x="277" y="162.5">19</text>
<text x="275" y="295">23</text>
<text x="407" y="324.5">15</text>
<text x="437.2" y="343.800">14</text>
<text x="496.5" y="315.5">24</text>
<text x="120" y="500.5">26</text>
</g>
<text class="b" x="237.3" y="127" textLength="40" lengthAdjust="spacingAndGlyphs" style="font-size:18px">F-26</text>
<text class="b" x="865.5" y="224.5" textLength="40" lengthAdjust="spacingAndGlyphs" style="font-size:17px">E-23</text>
<text x="1008.5" y="545.5" style="font-family:'Liberation Sans',sans-serif;font-size:12.3px;fill:#000;stroke:#000;stroke-width:0.25" textLength="66" lengthAdjust="spacingAndGlyphs">K264F2100</text>
<!-- leaders -->
<g class="l">
<path d="M310 58H326"/>
<path d="M457.5 72V90"/>
<path d="M538 33.7H556"/>
<path d="M523 71.5H541"/>
<path d="M557 100H576"/>
<path d="M647 73.5H664"/>
<path d="M640 114.5H657"/>
<path d="M632.5 140H650"/>
<path d="M817 130H836"/>
<path d="M812.5 179.5H830"/>
<path d="M680.3 177V190"/>
<path d="M990.5 200V222"/>
<path d="M1012.5 328H1030"/>
<path d="M830.5 316V335"/>
<path d="M863 319V342"/>
<path d="M893.8 341V362"/>
<path d="M838 415H850"/>
<path d="M902.5 417.5H918.5"/>
<path d="M845 458.5V475"/>
<path d="M639.5 287.5V308"/>
<path d="M628 365V381"/>
<path d="M743 428V444"/>
<path d="M588 421H604"/>
<path d="M588 442H603"/>
<path d="M676 430.7H695"/>
<path d="M574 466.7H592"/>
<path d="M570 490.5H589"/>
<path d="M563 519.5H580"/>
<path d="M631 520.5H648"/>
<path d="M712 522H729"/>
<path d="M746 502.5H757"/>
<path d="M167.5 184V202.5"/>
<path d="M92 209.5H109"/>
<path d="M238 162V175"/>
<path d="M283 218.7V235"/>
<path d="M318 237.5V257.5"/>
<path d="M297 157.5H314"/>
<path d="M256 289.5H272"/>
<path d="M414.6 290.7V308"/>
<path d="M446.8 308.6V328"/>
<path d="M476.6 310.4H493.6"/>
<path d="M141 494.5H161"/>
</g>

</g>
<g id="footer">
<g style="font-family:'Liberation Sans',sans-serif;font-size:5.6px;fill:#777">
<text x="313" y="527.8" textLength="495" lengthAdjust="spacingAndGlyphs">(c) 2002-2013 American Honda Motor Co., Inc. Reproduction of the contents of this publication in whole or in part without the express written approval of American Honda Motor Co., Inc is prohibited.</text>
<text x="486" y="534.4" textLength="146" lengthAdjust="spacingAndGlyphs">Page design (c) 2004 - 2017 by ARI Network Services, Inc</text>
</g>

</g>

</svg>
</body></html>
